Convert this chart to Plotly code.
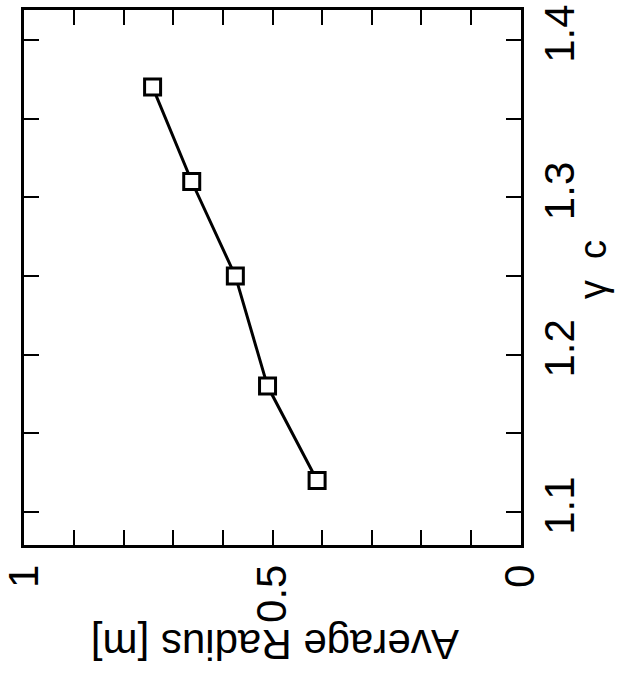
import plotly.graph_objects as go

# Data (rotated chart: gamma_c on vertical axis, radius on horizontal, reversed)
gamma_c = [1.12, 1.18, 1.25, 1.31, 1.37]
avg_radius = [0.41, 0.51, 0.575, 0.663, 0.742]

x_tickvals = [0.0, 0.1, 0.2, 0.3, 0.4, 0.5, 0.6, 0.7, 0.8, 0.9, 1.0]
x_ticktext = ["0", "", "", "", "", "0.5", "", "", "", "", "1"]
y_tickvals = [1.1, 1.15, 1.2, 1.25, 1.3, 1.35, 1.4]
y_ticktext = ["1.1", "", "1.2", "", "1.3", "", "1.4"]

FONT = "Liberation Sans, Arial, sans-serif"

fig = go.Figure()
fig.add_trace(go.Scatter(
    x=avg_radius, y=gamma_c, mode="lines+markers",
    line=dict(color="black", width=3),
    marker=dict(symbol="square", size=16, color="white",
                line=dict(color="black", width=3)),
    showlegend=False, cliponaxis=False,
))

fig.update_layout(
    width=618, height=677,
    margin=dict(l=24, r=97, t=10, b=132, autoexpand=False),
    paper_bgcolor="white", plot_bgcolor="white",
    font=dict(family=FONT, color="black", size=42),
    xaxis=dict(
        range=[1.0015, -0.0015], tickvals=x_tickvals, ticktext=x_ticktext,
        tickangle=-90, ticks="inside", ticklen=15, tickwidth=2,
        tickcolor="black", showline=True, linecolor="black", linewidth=2.5,
        mirror="ticks", showgrid=False, zeroline=False,
        ticklabeloverflow="allow", automargin=False,
        tickfont=dict(size=42, family=FONT),
    ),
    yaxis=dict(
        range=[1.079, 1.419], side="right", tickvals=y_tickvals,
        ticktext=y_ticktext, tickangle=-90, ticks="inside", ticklen=15,
        tickwidth=2, tickcolor="black", showline=True, linecolor="black",
        linewidth=2.5, mirror="ticks", showgrid=False, zeroline=False,
        ticklabeloverflow="allow", automargin=False,
        tickfont=dict(size=42, family=FONT),
    ),
    annotations=[
        dict(text="Average Radius [m]", textangle=180, xref="paper", yref="paper",
             x=0.505, y=0, yshift=-100, showarrow=False,
             font=dict(size=42, family=FONT), xanchor="center", yanchor="middle"),
        dict(text="γ  c", textangle=-90, xref="paper", yref="paper",
             x=1, xshift=72, y=0.514, showarrow=False,
             font=dict(size=38, family=FONT), xanchor="center", yanchor="middle"),
    ],
)

fig.write_html("out.html")
